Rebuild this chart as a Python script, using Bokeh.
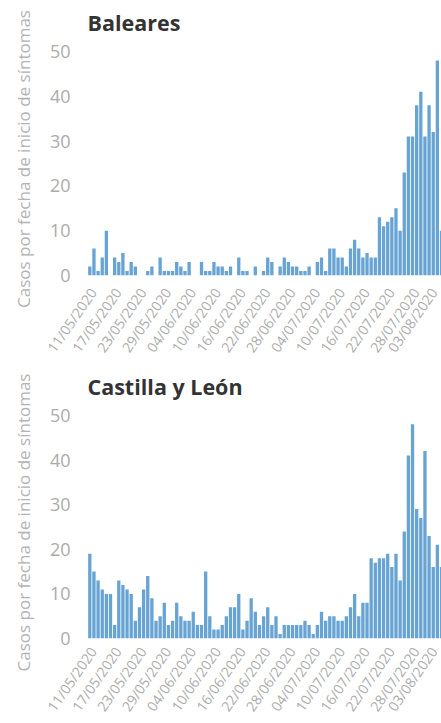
import math
from bokeh.plotting import figure
from bokeh.layouts import column
from bokeh.models import Range1d, FixedTicker
from bokeh.embed import file_html
from bokeh.resources import INLINE

# ---- data (day 0 = 11/05/2020) ----
TICK_DAYS = [0, 6, 12, 18, 24, 30, 36, 42, 48, 54, 60, 66, 72, 78, 84]
TICK_LABELS = ["11/05/2020", "17/05/2020", "23/05/2020", "29/05/2020", "04/06/2020",
               "10/06/2020", "16/06/2020", "22/06/2020", "28/06/2020", "04/07/2020",
               "10/07/2020", "16/07/2020", "22/07/2020", "28/07/2020", "03/08/2020"]
Y_TICKS = [0, 10, 20, 30, 40, 50]

BALEARES = [2, 6, 1, 4, 10, 0, 4, 3, 5, 1, 3, 2, 0, 0, 1, 2, 0, 4, 1, 1,
            1, 3, 2, 1, 3, 0, 0, 3, 1, 1, 3, 2, 2, 1, 2, 0, 4, 1, 1, 0,
            2, 0, 1, 4, 3, 0, 2, 4, 3, 2, 2, 1, 1, 2, 0, 3, 4, 1, 6, 6,
            4, 4, 2, 6, 8, 6, 4, 5, 4, 4, 13, 11, 12, 13, 15, 10, 23, 31, 31, 38,
            41, 31, 38, 32, 48, 10]
CASTILLA_Y_LEON = [19, 15, 13, 11, 10, 10, 3, 13, 12, 11, 10, 4, 7, 11, 14, 9, 4, 5, 8, 3,
                   4, 8, 5, 4, 4, 6, 3, 3, 15, 5, 2, 2, 3, 5, 7, 7, 10, 2, 4, 9,
                   6, 3, 5, 7, 3, 5, 1, 3, 3, 3, 3, 3, 4, 3, 1, 3, 6, 4, 5, 5,
                   4, 4, 5, 7, 10, 5, 8, 8, 18, 17, 18, 18, 19, 16, 19, 13, 24, 41, 48, 29,
                   27, 42, 23, 16, 21, 16]

PANELS = [("Baleares", BALEARES), ("Castilla y León", CASTILLA_Y_LEON)]
Y_LABEL = "Casos por fecha de inicio de síntomas"

BAR_COLOR = "#67a3d3"
FONT = "Open Sans"
LIGHT = "#ababab"
# rotated date labels in the original sit slightly right of their day
LABEL_SHIFT = 0.8


def make_panel(name, values, height, bottom, x_standoff):
    days = list(range(len(values)))
    p = figure(width=441, height=height, output_backend="svg", toolbar_location=None,
               x_range=Range1d(-0.56, 85.0), y_range=Range1d(0, 52),
               min_border_left=87, min_border_right=0, min_border_top=40,
               min_border_bottom=bottom, title=name)
    p.vbar(x=days, top=values, width=0.8, fill_color=BAR_COLOR, line_color=None)

    p.outline_line_color = None
    p.grid.grid_line_color = None
    p.background_fill_color = "white"
    p.border_fill_color = "white"

    p.title.text_font = FONT
    p.title.text_font_size = "21.5px"
    p.title.text_font_style = "bold"
    p.title.text_color = "#333333"
    p.title.align = "left"
    p.title.standoff = 11

    ticks = [d + LABEL_SHIFT for d in TICK_DAYS]
    xa = p.xaxis[0]
    xa.ticker = FixedTicker(ticks=ticks)
    xa.major_label_overrides = {t: l for t, l in zip(ticks, TICK_LABELS)}
    xa.major_label_orientation = math.radians(55)
    xa.axis_line_color = None
    xa.major_tick_line_color = None
    xa.minor_tick_line_color = None
    xa.major_label_text_font = FONT
    xa.major_label_text_font_size = "14px"
    xa.major_label_text_color = LIGHT
    xa.major_label_standoff = x_standoff

    ya = p.yaxis[0]
    ya.ticker = FixedTicker(ticks=Y_TICKS)
    ya.axis_line_color = None
    ya.major_tick_line_color = None
    ya.minor_tick_line_color = None
    ya.major_label_text_font = FONT
    ya.major_label_text_font_size = "18px"
    ya.major_label_text_color = LIGHT
    ya.major_label_standoff = 11
    ya.axis_label = Y_LABEL
    ya.axis_label_text_font = FONT
    ya.axis_label_text_font_size = "17px"
    ya.axis_label_text_font_style = "normal"
    ya.axis_label_text_color = "#b3b3b3"
    ya.axis_label_standoff = 12
    return p


p1 = make_panel(PANELS[0][0], PANELS[0][1], 364, 89, 8)
p2 = make_panel(PANELS[1][0], PANELS[1][1], 359, 85, 4)
layout = column(p1, p2, spacing=0)

open("out.html", "w").write(file_html(layout, INLINE))
